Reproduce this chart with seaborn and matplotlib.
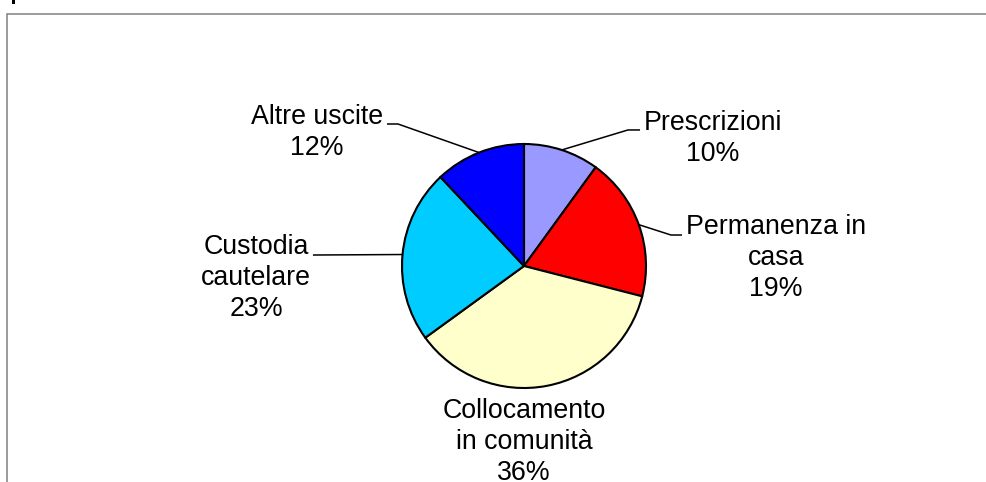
import numpy as np
import matplotlib
matplotlib.use("Agg")
import matplotlib.pyplot as plt
import seaborn as sns
from matplotlib.patches import Rectangle

# data
categories = ["Prescrizioni", "Permanenza in\ncasa", "Collocamento\nin comunità",
              "Custodia\ncautelare", "Altre uscite"]
shares = [10, 19, 36, 23, 12]
slice_colors = ["#9999FF", "#FF0000", "#FFFFCC", "#00CCFF", "#0000FF"]

# label layout (pie radius = 1): text centre, leader elbow, leader end
label_pos = [(1.549, 1.049), (2.066, 0.066), (0.0, -1.443), (-2.197, -0.098), (-1.697, 1.098)]
leader_elbow = [(0.852, 1.115), (1.205, 0.254), None, (-1.730, 0.090), (-1.033, 1.164)]
leader_end = [(0.951, 1.115), (1.295, 0.254), None, (-1.730, 0.090), (-1.123, 1.164)]

sns.set_theme(style="white")
plt.rcParams["font.family"] = ["Liberation Sans", "DejaVu Sans"]

W, H = 987, 482
cx, cy, R = 524, 266, 122
fig = plt.figure(figsize=(W / 100, H / 100), dpi=100)
ax = fig.add_axes([0, 0, 1, 1])

wedges, _ = ax.pie(shares, colors=slice_colors, startangle=90, counterclock=False,
                   radius=1, center=(0, 0), frame=True,
                   wedgeprops=dict(edgecolor="black", linewidth=1.5))
ax.set_aspect("auto")
ax.set_xlim(-cx / R, (W - cx) / R)
ax.set_ylim(-(H - cy) / R, cy / R)
ax.axis("off")

for w, name, val, pos, elb, end in zip(wedges, categories, shares, label_pos,
                                         leader_elbow, leader_end):
    ax.text(pos[0], pos[1], f"{name}\n{val}%", ha="center", va="center",
            fontsize=19.3, color="black", linespacing=1.25)
    if elb is not None:
        mid = np.deg2rad((w.theta1 + w.theta2) / 2)
        x0, y0 = np.cos(mid), np.sin(mid)
        ax.plot([x0, elb[0], end[0]], [y0, elb[1], end[1]], color="black", lw=1.1,
                solid_capstyle="butt")

# outer chart frame (cut off at right and bottom)
fig.patches.append(Rectangle((6.5 / W, -0.1), 1.1, (H - 14) / H + 0.1,
                             transform=fig.transFigure, fill=False,
                             edgecolor="#808080", linewidth=1.1))
fig.patches.append(Rectangle((12 / W, (H - 4) / H), 3 / W, 4 / H,
                             transform=fig.transFigure, color="black", lw=0))

fig.savefig("out.png", dpi=100)
